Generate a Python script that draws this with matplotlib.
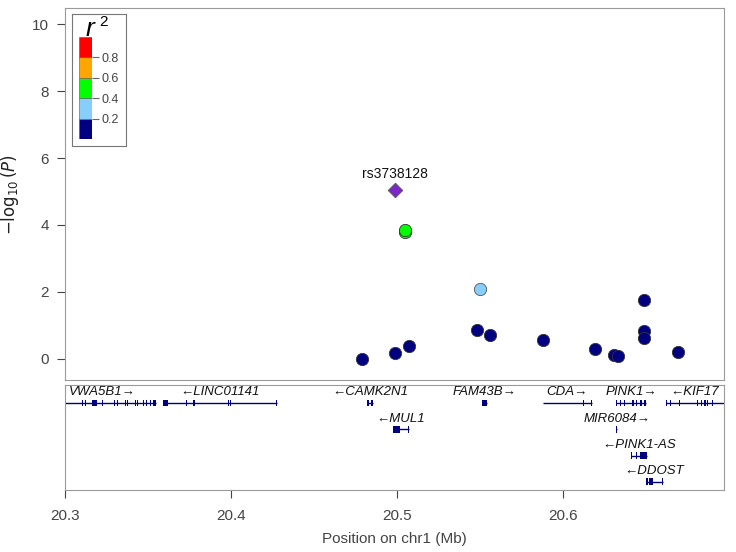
import matplotlib
matplotlib.use('Agg')
import matplotlib.pyplot as plt
import numpy as np

plt.rcParams['font.family'] = ['Liberation Sans', 'DejaVu Sans']

# SNP data: position (Mb), -log10(P), r2 bin colour
snp_pos = [20.479, 20.499, 20.507, 20.548, 20.556, 20.588, 20.619, 20.631, 20.633,
           20.649, 20.649, 20.649, 20.669]
snp_logp = [0.00, 0.18, 0.40, 0.87, 0.70, 0.57, 0.31, 0.11, 0.08, 1.76, 0.84, 0.62, 0.22]

green_pos = [20.505, 20.505]
green_logp = [3.80, 3.86]
lblue_pos = [20.550]
lblue_logp = [2.09]

lead_pos = 20.4988
lead_logp = 5.04
lead_name = 'rs3738128'

# r2 legend
r2_breaks = [0.0, 0.2, 0.4, 0.6, 0.8, 1.0]
r2_colors = ['#000080', '#87CEFA', '#00FF00', '#FFA500', '#FF0000']

# genes: name, start, end, row, strand, exons (start, end)
gene_names = ['VWA5B1', 'LINC01141', 'CAMK2N1', 'MUL1', 'FAM43B', 'CDA', 'PINK1',
              'KIF17', 'MIR6084', 'PINK1-AS', 'DDOST']
gene_start = [20.290, 20.359, 20.4817, 20.4976, 20.5510, 20.5877, 20.6319,
              20.6620, 20.6321, 20.6410, 20.6500]
gene_end = [20.355, 20.4275, 20.4857, 20.5070, 20.5540, 20.6172, 20.6500,
            20.7050, 20.6325, 20.6504, 20.6600]
gene_row = [0, 0, 0, 1, 0, 0, 0, 0, 1, 2, 3]
gene_strand = ['+', '-', '-', '-', '+', '+', '+', '-', '+', '-', '-']
gene_exons = [
    [(20.3105, 20.3110), (20.3120, 20.3125), (20.3165, 20.3190), (20.3225, 20.3230),
     (20.3275, 20.3280), (20.3295, 20.3300), (20.3315, 20.3320), (20.3360, 20.3365),
     (20.3375, 20.3380), (20.3420, 20.3425), (20.3435, 20.3440), (20.3455, 20.3460),
     (20.3470, 20.3475), (20.3490, 20.3495), (20.3515, 20.3520), (20.3530, 20.3550)],
    [(20.3590, 20.3622), (20.3730, 20.3735), (20.3770, 20.3782), (20.3984, 20.3989),
     (20.3995, 20.4000), (20.4052, 20.4057), (20.4270, 20.4275)],
    [(20.4817, 20.4832), (20.4842, 20.4857)],
    [(20.4976, 20.5018), (20.5065, 20.5070)],
    [(20.5510, 20.5540)],
    [(20.5877, 20.5882), (20.6034, 20.6039), (20.6120, 20.6125), (20.6167, 20.6172)],
    [(20.6319, 20.6324), (20.6345, 20.6350), (20.6370, 20.6375), (20.6415, 20.6425),
     (20.6440, 20.6445), (20.6462, 20.6475), (20.6490, 20.6500)],
    [(20.6620, 20.6625), (20.6645, 20.6650), (20.6700, 20.6705), (20.6810, 20.6815),
     (20.6830, 20.6835), (20.6850, 20.6860), (20.6870, 20.6875), (20.6900, 20.6905)],
    [(20.6321, 20.6325)],
    [(20.6410, 20.6415), (20.6440, 20.6445), (20.6464, 20.6504)],
    [(20.6500, 20.6515), (20.6520, 20.6545), (20.6595, 20.6600)],
]

xticks = [20.3, 20.4, 20.5, 20.6]
yticks = [0, 2, 4, 6, 8, 10]

navy = '#000080'
tick_col = '#444444'
box_col = '#9a9a9a'

fig = plt.figure(figsize=(7.36, 5.52), dpi=100)
W, H = 736.0, 552.0

def px_axes(x0, y0, x1, y1):
    return fig.add_axes([x0 / W, 1 - y1 / H, (x1 - x0) / W, (y1 - y0) / H])

# ---- association panel
ax = px_axes(65, 8, 724, 380)
xlim = (20.3, 20.697)
ax.set_xlim(xlim)
ax.set_ylim(-0.63, 10.48)
for s in ax.spines.values():
    s.set_color(box_col)
ax.set_xticks([])
ax.set_yticks(yticks)
ax.tick_params(axis='y', direction='out', length=5.5, color=tick_col,
               labelcolor=tick_col, labelsize=11, pad=6)
ax.set_ylabel(r'$-\log_{10}(P)$', fontsize=12, color='#222222', labelpad=8)

ax.scatter(snp_pos, snp_logp, s=78, c=navy, edgecolors='#333333', linewidths=0.6, zorder=3)
ax.scatter(green_pos, green_logp, s=78, c='#00FF00', edgecolors='#333333', linewidths=0.6, zorder=3)
ax.scatter(lblue_pos, lblue_logp, s=78, c='#87CEFA', edgecolors='#555555', linewidths=0.6, zorder=3)
ax.scatter([lead_pos], [lead_logp], s=55, marker='D', c='#7D26CD', edgecolors='#555555',
           linewidths=0.6, zorder=4)
ax.text(lead_pos, lead_logp + 0.28, lead_name, ha='center', va='bottom', fontsize=10,
        color='#111111')

# ---- r2 legend
lg = px_axes(72, 14, 126, 146)
lg.set_xticks([])
lg.set_yticks([])
for s in lg.spines.values():
    s.set_color('#777777')
lg.patch.set_facecolor('white')
lg.text(0.34, 0.89, 'r', transform=lg.transAxes, ha='center', va='center',
        fontsize=19, style='italic', color='black')
lg.text(0.58, 0.94, '2', transform=lg.transAxes, ha='center', va='center',
        fontsize=11, color='black')

cb = px_axes(79, 37, 92, 139)
bottoms = r2_breaks[:-1]
heights = np.diff(r2_breaks)
cb.bar([0.5] * len(bottoms), heights, bottom=bottoms, width=1.0, color=r2_colors,
       edgecolor='#555555', linewidth=0.4)
cb.set_xlim(0, 1)
cb.set_ylim(0, 1)
cb.set_xticks([])
cb.yaxis.tick_right()
cb.set_yticks(r2_breaks[1:-1])
cb.set_yticklabels(['%.1f' % v for v in r2_breaks[1:-1]])
cb.tick_params(axis='y', length=5, color='#666666', labelcolor='#444444', labelsize=9, pad=2)
for s in cb.spines.values():
    s.set_visible(False)

# ---- gene panel
gx = px_axes(65, 385, 724, 490)
gx.set_xlim(xlim)
gx.set_ylim(3.31, -0.684)
for s in gx.spines.values():
    s.set_color(box_col)
gx.set_yticks([])
gx.set_xticks(xticks)
gx.set_xticklabels(['%.1f' % v for v in xticks])
gx.tick_params(axis='x', direction='out', length=6, color=tick_col, labelcolor=tick_col,
               labelsize=11, pad=8)
gx.set_xlabel('Position on chr1 (Mb)', fontsize=11, color='#444444', labelpad=6)

for name, st, en, row, strand, exons in zip(gene_names, gene_start, gene_end, gene_row,
                                            gene_strand, gene_exons):
    gx.plot([st, en], [row, row], color=navy, lw=1.0, solid_capstyle='butt', clip_on=True)
    gx.broken_barh([(a, max(b - a, 0.0004)) for a, b in exons], (row - 0.13, 0.26),
                   facecolors=navy, edgecolors='none', clip_on=True)
    lab = name + '\u2192' if strand == '+' else '\u2190' + name
    gx.text((st + min(en, xlim[1])) / 2, row - 0.4, lab, ha='center', va='center',
            fontsize=9.5, style='italic', color='#111111')

fig.savefig('out.png', dpi=100)
